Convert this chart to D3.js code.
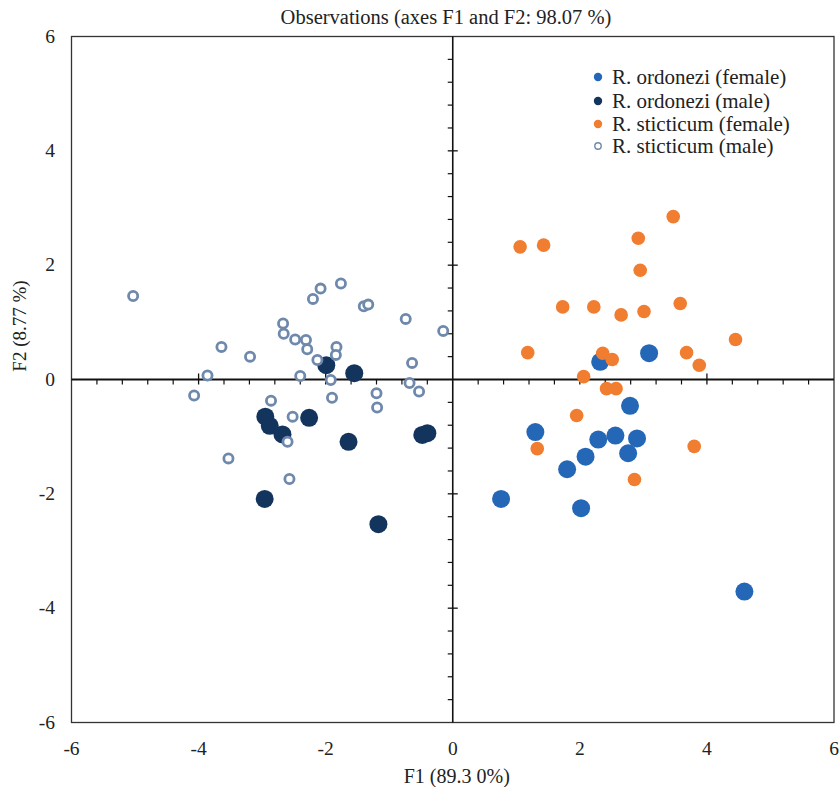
<!DOCTYPE html>
<html><head><meta charset="utf-8">
<script src="https://cdn.jsdelivr.net/npm/d3@7"></script>
<style>body{margin:0;background:#fff}svg{display:block}text{font-family:"Liberation Serif","DejaVu Serif",serif;fill:#222}</style>
</head><body><svg id="c" width="839" height="787"></svg>
<script>
const seriesNames = ["R. ordonezi (female)","R. ordonezi (male)","R. sticticum (female)","R. sticticum (male)"];
const ordFemale = [[2.32,0.31],[3.09,0.46],[2.79,-0.46],[1.30,-0.92],[2.29,-1.05],[2.56,-0.98],[2.90,-1.03],[2.76,-1.29],[2.09,-1.35],[1.80,-1.57],[0.76,-2.09],[2.02,-2.25],[4.59,-3.71]];
const ordMale = [[-1.99,0.25],[-1.55,0.11],[-2.95,-0.65],[-2.88,-0.81],[-2.68,-0.96],[-2.26,-0.67],[-1.64,-1.09],[-0.48,-0.97],[-0.40,-0.94],[-2.96,-2.09],[-1.17,-2.53]];
const stiFemale = [[1.06,2.32],[1.43,2.35],[3.47,2.85],[2.92,2.47],[2.95,1.91],[1.73,1.27],[2.22,1.27],[2.65,1.13],[3.01,1.19],[3.58,1.33],[4.45,0.70],[1.18,0.47],[2.36,0.46],[2.51,0.35],[3.68,0.47],[3.88,0.25],[2.06,0.05],[2.42,-0.16],[2.57,-0.16],[1.95,-0.63],[1.33,-1.21],[3.80,-1.17],[2.86,-1.75]];
const stiMale = [[-5.03,1.46],[-3.64,0.57],[-3.19,0.40],[-3.86,0.07],[-4.07,-0.28],[-2.86,-0.37],[-3.53,-1.38],[-2.67,0.98],[-2.66,0.80],[-2.08,1.59],[-1.76,1.68],[-2.20,1.41],[-1.40,1.28],[-1.33,1.31],[-0.74,1.06],[-0.15,0.85],[-2.48,0.70],[-2.31,0.69],[-2.29,0.53],[-1.83,0.57],[-1.84,0.43],[-2.13,0.34],[-0.64,0.29],[-2.40,0.06],[-1.92,-0.01],[-0.68,-0.06],[-0.53,-0.21],[-1.20,-0.24],[-1.19,-0.49],[-1.90,-0.32],[-2.52,-0.65],[-2.60,-1.09],[-2.57,-1.74]];
const majorTicks = [-6,-4,-2,0,2,4,6];
const titleText = "Observations (axes F1 and F2: 98.07 %)";
const xTitle = "F1 (89.3 0%)";
const yTitle = "F2 (8.77 %)";

const svg = d3.select("#c");
const L=71.5, R=834, T=36.5, B=722.5;
const x = d3.scaleLinear().domain([-6,6]).range([L,R]);
const y = d3.scaleLinear().domain([-6,6]).range([B,T]);
const minor = d3.range(-6,6.001,0.4).map(v=>+v.toFixed(2)).filter(v=>Math.abs(v/2-Math.round(v/2))>1e-6);

// frame
svg.append("rect").attr("x",L).attr("y",T).attr("width",R-L).attr("height",B-T)
  .attr("fill","none").attr("stroke","#333").attr("stroke-width",1.3);

// central axes
const g = svg.append("g");
g.append("line").attr("x1",L).attr("x2",R).attr("y1",y(0)).attr("y2",y(0)).attr("stroke","#111").attr("stroke-width",2);
g.append("line").attr("y1",T).attr("y2",B).attr("x1",x(0)).attr("x2",x(0)).attr("stroke","#111").attr("stroke-width",1.6);
g.selectAll(".mx").data(minor).join("line").attr("x1",d=>x(d)).attr("x2",d=>x(d)).attr("y1",y(0)).attr("y2",y(0)+5).attr("stroke","#111").attr("stroke-width",1.2);
g.selectAll(".Mx").data(majorTicks.filter(d=>d!==0&&Math.abs(d)<6)).join("line").attr("x1",d=>x(d)).attr("x2",d=>x(d)).attr("y1",y(0)-6).attr("y2",y(0)+5).attr("stroke","#111").attr("stroke-width",1.3);
g.selectAll(".my").data(minor).join("line").attr("y1",d=>y(d)).attr("y2",d=>y(d)).attr("x1",x(0)-5).attr("x2",x(0)).attr("stroke","#111").attr("stroke-width",1.2);
g.selectAll(".My").data(majorTicks.filter(d=>d!==0&&Math.abs(d)<6)).join("line").attr("y1",d=>y(d)).attr("y2",d=>y(d)).attr("x1",x(0)-5).attr("x2",x(0)+5).attr("stroke","#111").attr("stroke-width",1.3);

// tick labels
svg.selectAll(".xl").data(majorTicks).join("text").attr("x",d=>x(d)).attr("y",755).attr("text-anchor","middle").attr("font-size",19.5).text(d=>d);
svg.selectAll(".yl").data(majorTicks).join("text").attr("x",55).attr("y",d=>y(d)+6).attr("text-anchor","end").attr("font-size",19.5).text(d=>d);

// titles
svg.append("text").attr("x",446).attr("y",24).attr("text-anchor","middle").attr("font-size",20.5).text(titleText);
svg.append("text").attr("x",x(0)+4).attr("y",783).attr("text-anchor","middle").attr("font-size",20).text(xTitle);
svg.append("text").attr("transform","translate(26,326) rotate(-90)").attr("text-anchor","middle").attr("font-size",19).text(yTitle);

// points
const styles = [
  {data:ordFemale, r:9, fill:"#2467b6", stroke:"none", sw:0},
  {data:ordMale, r:9, fill:"#13355d", stroke:"none", sw:0},
  {data:stiFemale, r:6.8, fill:"#f07d30", stroke:"none", sw:0},
  {data:stiMale, r:4.6, fill:"#ffffff", stroke:"#6f89ac", sw:2.8}
];
styles.forEach((s,i)=>{
  svg.append("g").selectAll("circle").data(s.data).join("circle")
    .attr("cx",d=>x(d[0])).attr("cy",d=>y(d[1])).attr("r",s.r)
    .attr("fill",s.fill).attr("stroke",s.stroke).attr("stroke-width",s.sw);
});

// legend
const lg = svg.append("g");
const rowsY = [77,101,124,146];
styles.forEach((s,i)=>{
  lg.append("circle").attr("cx",598).attr("cy",rowsY[i]).attr("r", i===3?3.2:4.2)
    .attr("fill",s.fill).attr("stroke",s.stroke).attr("stroke-width",i===3?1.4:0);
  lg.append("text").attr("x",612).attr("y",rowsY[i]+6.5).attr("font-size",21).text(seriesNames[i]);
});
</script></body></html>
